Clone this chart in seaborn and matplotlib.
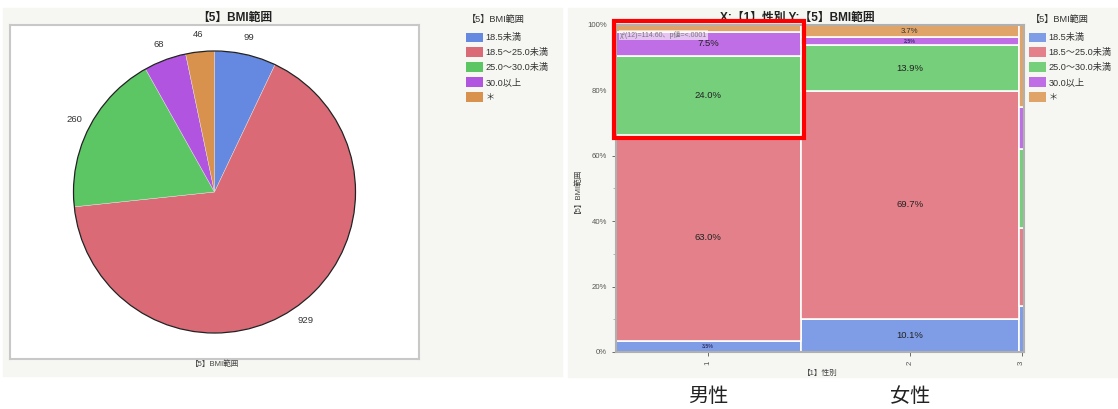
import numpy as np
import pandas as pd
import matplotlib
matplotlib.use("Agg")
import matplotlib.pyplot as plt
import matplotlib.transforms as mtransforms
from matplotlib.patches import Rectangle, Patch, Circle
from matplotlib.ticker import PercentFormatter, MultipleLocator
import seaborn as sns


# data
bmi_levels = ["18.5未満", "18.5〜25.0未満", "25.0〜30.0未満", "30.0以上", "＊"]
bmi_counts = [99, 929, 260, 68, 46]

sex_ticks = ["1", "2", "3"]
sex_counts = [634, 751, 17]
male_pct = [3.5, 63.0, 24.0, 7.5, 2.0]
female_pct = [10.1, 69.7, 13.9, 2.5, 3.7]
other_pct = [14.0, 24.0, 24.0, 13.0, 25.0]
under_labels = ["男性", "女性"]

chi_text = "χ²(12)=114.60、p値=<.0001"

pie_colors = ["#6589e0", "#db6a77", "#5cc665", "#b154e0", "#d9914e"]
mosaic_colors = ["#7f9de6", "#e3808a", "#76cf7b", "#c06ee6", "#e0a468"]
BG = "#f6f6f2"

sns.set_theme(style="ticks")
plt.rcParams["font.family"] = ["Liberation Sans", "Noto Sans CJK JP", "DejaVu Sans"]

W, H = 1118, 409
fig = plt.figure(figsize=(W / 100, H / 100), dpi=100)


def fx(x):
    return x / W


def fy(y):
    return 1 - y / H


def add_legend(colors, x_box, x_title):
    # legend title drawn on its own so the gap below it matches the reference
    fig.text(fx(x_title), fy(19), "【5】BMI範囲", ha="left", va="center",
             fontsize=6.6, color="#333333")
    leg = fig.legend(
        [Patch(fc=c, ec="none") for c in colors], bmi_levels,
        loc="upper left",
        bbox_to_anchor=(fx(x_box), fy(32.5)), bbox_transform=fig.transFigure,
        frameon=False, fontsize=6.6, handlelength=1.85, handleheight=1.2,
        handletextpad=0.3, labelspacing=0.56, borderaxespad=0, borderpad=0,
    )
    for t in leg.get_texts():
        t.set_color("#333333")
    return leg


# panel backgrounds
fig.add_artist(Rectangle((fx(3), fy(376)), fx(559), 368 / H,
                         transform=fig.transFigure, color=BG, zorder=0))
fig.add_artist(Rectangle((fx(568), fy(377)), fx(550), 369 / H,
                         transform=fig.transFigure, color=BG, zorder=0))

# ---- left: pie chart ----
ax1 = fig.add_axes([fx(10), fy(359), fx(409), 334 / H])
wedges, texts = ax1.pie(
    bmi_counts,
    labels=[str(c) for c in bmi_counts],
    colors=pie_colors,
    startangle=90,
    counterclock=False,
    labeldistance=1.12,
    wedgeprops=dict(linewidth=0.3, edgecolor="#e0e0e0"),
    textprops=dict(fontsize=6.8, color="#333333"),
)
for t in texts:
    t.set_ha("center")
ax1.add_patch(Circle((0, 0), 1, fill=False, ec="#222222", lw=0.9))
ax1.set_aspect("auto")
ax1.set_xlim(-409 / 2 / 141, 409 / 2 / 141)
ax1.set_ylim(-334 / 2 / 141, 334 / 2 / 141)
ax1.set_frame_on(True)
ax1.set_facecolor("white")
for s in ax1.spines.values():
    s.set_color("#c8c8c8")
    s.set_linewidth(1.5)
ax1.set_xticks([])
ax1.set_yticks([])

fig.text(fx(235), fy(18), "【5】BMI範囲", ha="center", va="center",
         fontsize=8.5, weight="bold", color="#222222")
fig.text(fx(215), fy(364), "【5】BMI範囲", ha="center", va="center",
         fontsize=5.5, color="#444444")

add_legend(pie_colors, 466, 467)

# ---- right: mosaic plot ----
ax2 = fig.add_axes([fx(616), fy(352), fx(408), 327 / H])
ax2.set_facecolor(BG)

edges = np.concatenate([[0], np.cumsum(sex_counts)])
mids = (edges[:-1] + edges[1:]) / 2
pct_table = [male_pct, female_pct, other_pct]

rows = []
for mid, pcts in zip(mids, pct_table):
    for lvl, p in zip(bmi_levels, pcts):
        rows.append({"x": mid, "bmi": lvl, "pct": p})
df = pd.DataFrame(rows)

sns.histplot(
    data=df, x="x", weights="pct", hue="bmi",
    hue_order=bmi_levels[::-1], multiple="fill", bins=edges.tolist(),
    palette=dict(zip(bmi_levels, mosaic_colors)),
    edgecolor="white", linewidth=1.2, alpha=1, legend=False, ax=ax2,
)

# percentage labels in the first two columns
for mid, pcts in zip(mids[:2], pct_table[:2]):
    total = sum(pcts)
    bottom = 0
    for p in pcts:
        frac = p / total
        if p >= 2.2:
            if p < 3.6:
                size, weight, col = 3.8, "bold", "#33336a"
            elif p < 5:
                size, weight, col = 5.6, "normal", "#333333"
            else:
                size, weight, col = 6.8, "normal", "#222222"
            ax2.text(mid, bottom + frac / 2, f"{p:.1f}%", ha="center",
                     va="center", fontsize=size, weight=weight, color=col)
        bottom += frac

ax2.set_xlim(0, edges[-1])
ax2.set_ylim(0, 1)
ax2.set_xticks(mids)
ax2.set_xticklabels(sex_ticks, rotation=90)
ax2.yaxis.set_major_locator(MultipleLocator(0.2))
ax2.yaxis.set_minor_locator(MultipleLocator(0.1))
ax2.yaxis.set_major_formatter(PercentFormatter(1, decimals=0))
ax2.tick_params(axis="both", which="major", labelsize=5.6, colors="#555555",
                length=3, width=0.6)
ax2.tick_params(axis="y", which="minor", length=2, width=0.5, colors="#999999")
ax2.set_xlabel("【1】性別", fontsize=5.5, color="#444444", labelpad=3)
ax2.set_ylabel("【5】BMI範囲", fontsize=5.5, color="#444444", labelpad=7)
for s in ax2.spines.values():
    s.set_color("#b0b0b0")
    s.set_linewidth(1.5)

fig.text(fx(797), fy(18), "X:【1】性別 Y:【5】BMI範囲", ha="center",
         va="center", fontsize=8.5, weight="bold", color="#222222")

fig.text(fx(620), fy(35), chi_text, ha="left", va="center", fontsize=5,
         color="#777777",
         bbox=dict(fc="white", ec="none", alpha=0.6, pad=0.8))

add_legend(mosaic_colors, 1029, 1031)

# highlight box
fig.add_artist(Rectangle((fx(614), fy(138)), fx(190), 117 / H, fill=False,
                         ec="#ff0000", lw=3, transform=fig.transFigure,
                         zorder=10))

# sex names below the mosaic columns
trans = mtransforms.blended_transform_factory(ax2.transData, fig.transFigure)
for mid, name in zip(mids[:2], under_labels):
    ax2.text(mid, fy(397), name, transform=trans, ha="center", va="center",
             fontsize=14.5, color="#222222", clip_on=False)

fig.savefig("out.png", dpi=100, facecolor="white")
